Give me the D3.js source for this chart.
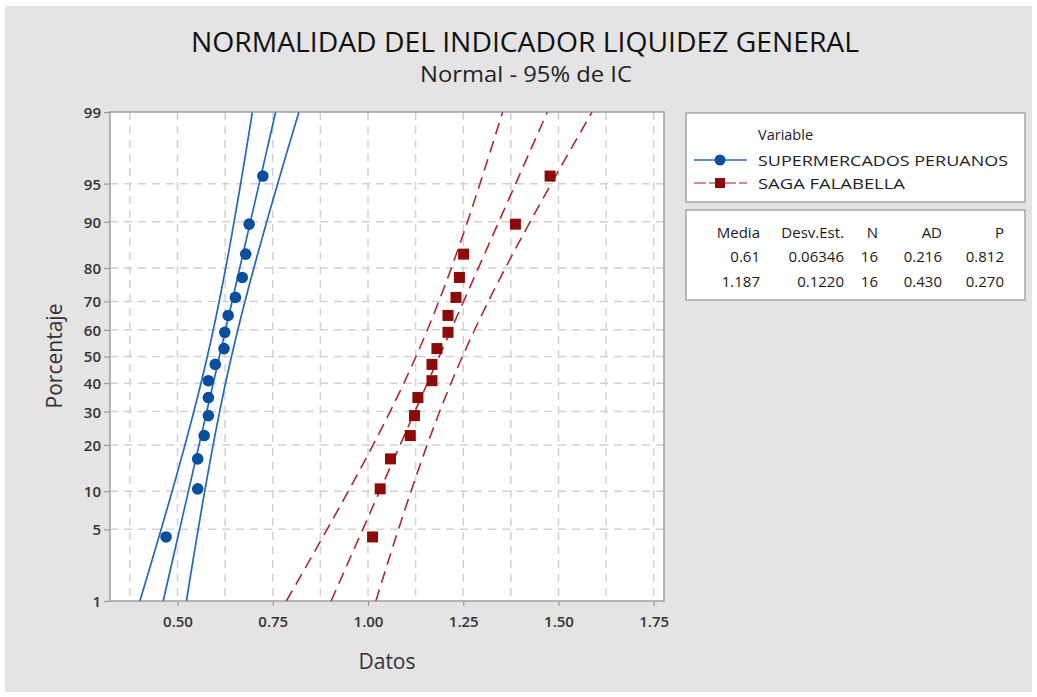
<!DOCTYPE html>
<html>
<head>
<meta charset="utf-8">
<script src="https://cdn.jsdelivr.net/npm/d3@7"></script>
<style>
  body { margin: 0; background: #fff; }
  text { font-family: "Open Sans", "Noto Sans", sans-serif; }
</style>
</head>
<body>
<script>
// data
var seriesNames = ["SUPERMERCADOS PERUANOS", "SAGA FALABELLA"];
var superValues = [0.47, 0.553, 0.553, 0.57, 0.581, 0.581, 0.581, 0.599, 0.622, 0.624, 0.633, 0.652, 0.67, 0.679, 0.688, 0.724];
var sagaValues = [1.012, 1.032, 1.059, 1.111, 1.122, 1.131, 1.168, 1.168, 1.181, 1.21, 1.21, 1.231, 1.24, 1.251, 1.387, 1.478];
var plotPct = [4.3, 10.4, 16.5, 22.6, 28.7, 34.8, 40.9, 47.0, 53.0, 59.1, 65.2, 71.3, 77.4, 83.5, 89.6, 95.7];
var means = [0.61, 1.187];
var stdDevs = [0.06346, 0.1220];
var counts = [16, 16];
var adValues = ["0.216", "0.430"];
var pValues = ["0.812", "0.270"];
var meanLabels = ["0.61", "1.187"];
var sdLabels = ["0.06346", "0.1220"];
var yTicks = [1, 5, 10, 20, 30, 40, 50, 60, 70, 80, 90, 95, 99];
var xTicks = [0.50, 0.75, 1.00, 1.25, 1.50, 1.75];
var xGrid = [0.375, 0.5, 0.625, 0.75, 0.875, 1.0, 1.125, 1.25, 1.375, 1.5, 1.625, 1.75];

// inverse normal cdf (Acklam)
function probit(p) {
  var a = [-39.69683028665376, 220.9460984245205, -275.9285104469687, 138.357751867269, -30.66479806614716, 2.506628277459239];
  var b = [-54.47609879822406, 161.5858368580409, -155.6989798598866, 66.80131188771972, -13.28068155288572];
  var c = [-0.007784894002430293, -0.3223964580411365, -2.400758277161838, -2.549732539343734, 4.374664141464968, 2.938163982698783];
  var d = [0.007784695709041462, 0.3224671290700398, 2.445134137142996, 3.754408661907416];
  var pl = 0.02425, q, r;
  if (p < pl) {
    q = Math.sqrt(-2 * Math.log(p));
    return (((((c[0]*q+c[1])*q+c[2])*q+c[3])*q+c[4])*q+c[5]) / ((((d[0]*q+d[1])*q+d[2])*q+d[3])*q+1);
  } else if (p <= 1 - pl) {
    q = p - 0.5; r = q * q;
    return (((((a[0]*r+a[1])*r+a[2])*r+a[3])*r+a[4])*r+a[5])*q / (((((b[0]*r+b[1])*r+b[2])*r+b[3])*r+b[4])*r+1);
  }
  q = Math.sqrt(-2 * Math.log(1 - p));
  return -(((((c[0]*q+c[1])*q+c[2])*q+c[3])*q+c[4])*q+c[5]) / ((((d[0]*q+d[1])*q+d[2])*q+d[3])*q+1);
}

var W = 1037, H = 697;
var plot = {left: 110, top: 112, right: 664, bottom: 601};

var svg = d3.select("body").append("svg")
    .attr("width", W)
    .attr("height", H);

// background panel
svg.append("rect")
    .attr("x", 5).attr("y", 6)
    .attr("width", 1027).attr("height", 686)
    .attr("fill", "#e4e4e4");

var x = d3.scaleLinear()
    .domain([0.3228, 1.777])
    .range([plot.left, plot.right]);

var zLo = probit(0.01), zHi = probit(0.99);
var yz = d3.scaleLinear()
    .domain([zLo, zHi])
    .range([plot.bottom, plot.top]);
function y(pct) { return yz(probit(pct / 100)); }

// plot area
svg.append("rect")
    .attr("x", plot.left).attr("y", plot.top)
    .attr("width", plot.right - plot.left).attr("height", plot.bottom - plot.top)
    .attr("fill", "#fff");

svg.append("clipPath").attr("id", "clip")
  .append("rect")
    .attr("x", plot.left).attr("y", plot.top)
    .attr("width", plot.right - plot.left).attr("height", plot.bottom - plot.top);

// grid
var grid = svg.append("g")
    .attr("stroke", "#d2d2d2")
    .attr("stroke-width", 1.5)
    .attr("stroke-dasharray", "8,6");
grid.selectAll(".vg").data(xGrid).enter().append("line")
    .attr("x1", d => x(d)).attr("x2", d => x(d))
    .attr("y1", plot.top).attr("y2", plot.bottom);
grid.selectAll(".hg").data(yTicks.slice(1, -1)).enter().append("line")
    .attr("x1", plot.left).attr("x2", plot.right)
    .attr("y1", d => y(d)).attr("y2", d => y(d));

// axes
var xAxis = svg.append("g")
    .attr("transform", "translate(0," + plot.bottom + ")")
    .call(d3.axisBottom(x).tickValues(xTicks).tickFormat(d3.format(".2f")).tickSizeOuter(0).tickSize(5));
var yAxis = svg.append("g")
    .attr("transform", "translate(" + plot.left + ",0)")
    .call(d3.axisLeft(yz).tickValues(yTicks.map(t => probit(t / 100)))
      .tickFormat((d, i) => yTicks[i]).tickSizeOuter(0).tickSize(6));
[xAxis, yAxis].forEach(function(g) {
  g.select(".domain").remove();
  g.selectAll(".tick line").attr("stroke", "#9a9a9a").attr("stroke-width", 1.2);
  g.selectAll(".tick text")
    .attr("fill", "#333")
    .style("font-size", "15px")
    .style("font-weight", "600");
});
xAxis.selectAll(".tick text").attr("dy", "1.2em");
yAxis.selectAll(".tick text").attr("x", -9).attr("dy", "0.36em");

// frame
svg.append("rect")
    .attr("x", plot.left).attr("y", plot.top)
    .attr("width", plot.right - plot.left).attr("height", plot.bottom - plot.top)
    .attr("fill", "none")
    .attr("stroke", "#9f9f9f")
    .attr("stroke-width", 1.5);

// fitted line and 95% CI bands
var colors = ["#2468b8", "#ad2a2a"];
var markColors = ["#0a4f9e", "#8c0a0a"];
var zs = d3.range(zLo, zHi + 0.001, 0.05);
var lineGen = d3.line().x(d => x(d[0])).y(d => yz(d[1]));
var lines = svg.append("g").attr("clip-path", "url(#clip)");
[0, 1].forEach(function(s) {
  var m = means[s], sd = stdDevs[s], n = counts[s];
  [-1, 0, 1].forEach(function(side) {
    var pts = zs.map(function(z) {
      var half = 2.0 * sd * Math.sqrt(1 / n + z * z / (2 * n));
      return [m + z * sd + side * half, z];
    });
    lines.append("path")
      .datum(pts)
      .attr("d", lineGen)
      .attr("fill", "none")
      .attr("stroke", colors[s])
      .attr("stroke-width", s === 0 ? 1.7 : 1.6)
      .attr("stroke-dasharray", s === 0 ? null : "12,7");
  });
});

// points
svg.selectAll(".pt1").data(superValues).enter().append("circle")
    .attr("cx", d => x(d))
    .attr("cy", (d, i) => y(plotPct[i]))
    .attr("r", 5.8)
    .attr("fill", markColors[0]);
svg.selectAll(".pt2").data(sagaValues).enter().append("rect")
    .attr("x", d => x(d) - 5.5)
    .attr("y", (d, i) => y(plotPct[i]) - 5.5)
    .attr("width", 11).attr("height", 11)
    .attr("fill", markColors[1]);

// titles
svg.append("text")
    .attr("x", 525).attr("y", 52)
    .attr("text-anchor", "middle")
    .attr("fill", "#111")
    .attr("textLength", 668).attr("lengthAdjust", "spacingAndGlyphs")
    .style("font-size", "28px")
    .text("NORMALIDAD DEL INDICADOR LIQUIDEZ GENERAL");
svg.append("text")
    .attr("x", 526).attr("y", 82)
    .attr("text-anchor", "middle")
    .attr("fill", "#222")
    .attr("textLength", 212).attr("lengthAdjust", "spacingAndGlyphs")
    .style("font-size", "21px")
    .text("Normal - 95% de IC");
svg.append("text")
    .attr("x", 387).attr("y", 669)
    .attr("text-anchor", "middle")
    .attr("fill", "#333")
    .style("font-size", "21px")
    .text("Datos");
svg.append("text")
    .attr("transform", "translate(62,356)rotate(-90)")
    .attr("text-anchor", "middle")
    .attr("fill", "#333")
    .style("font-size", "21px")
    .text("Porcentaje");

// legend
var leg = svg.append("g");
leg.append("rect")
    .attr("x", 686).attr("y", 113).attr("width", 339).attr("height", 89)
    .attr("fill", "#fff").attr("stroke", "#a5a5a5").attr("stroke-width", 1.5);
leg.append("text")
    .attr("x", 758).attr("y", 140)
    .attr("fill", "#222")
    .style("font-size", "14.5px")
    .text("Variable");
var legY = [160, 183];
seriesNames.forEach(function(name, s) {
  leg.append("line")
    .attr("x1", 694).attr("x2", 747)
    .attr("y1", legY[s]).attr("y2", legY[s])
    .attr("stroke", s === 0 ? colors[0] : "#c46a6a")
    .attr("stroke-width", 1.6)
    .attr("stroke-dasharray", s === 0 ? null : "12,3");
  if (s === 0) {
    leg.append("circle").attr("cx", 720).attr("cy", legY[s]).attr("r", 5.5).attr("fill", markColors[0]);
  } else {
    leg.append("rect").attr("x", 715).attr("y", legY[s] - 5).attr("width", 10).attr("height", 10).attr("fill", markColors[1]);
  }
  leg.append("text")
    .attr("x", 758).attr("y", legY[s] + 5.5)
    .attr("fill", "#222")
    .attr("textLength", s === 0 ? 250 : 147).attr("lengthAdjust", "spacingAndGlyphs")
    .style("font-size", "15px")
    .text(name);
});

// stats table
var tab = svg.append("g");
tab.append("rect")
    .attr("x", 686).attr("y", 210).attr("width", 339).attr("height", 90)
    .attr("fill", "#fff").attr("stroke", "#a5a5a5").attr("stroke-width", 1.5);
var colRight = [760, 844, 878, 942, 1004];
var headers = ["Media", "Desv.Est.", "N", "AD", "P"];
var rows = [headers,
  [meanLabels[0], sdLabels[0], String(counts[0]), adValues[0], pValues[0]],
  [meanLabels[1], sdLabels[1], String(counts[1]), adValues[1], pValues[1]]];
var rowY = [238, 262, 287];
rows.forEach(function(row, r) {
  row.forEach(function(txt, c) {
    tab.append("text")
      .attr("x", colRight[c]).attr("y", rowY[r])
      .attr("text-anchor", "end")
      .attr("fill", "#1a1a1a")
      .style("font-size", "15px")
      .text(txt);
  });
});
</script>
</body>
</html>
